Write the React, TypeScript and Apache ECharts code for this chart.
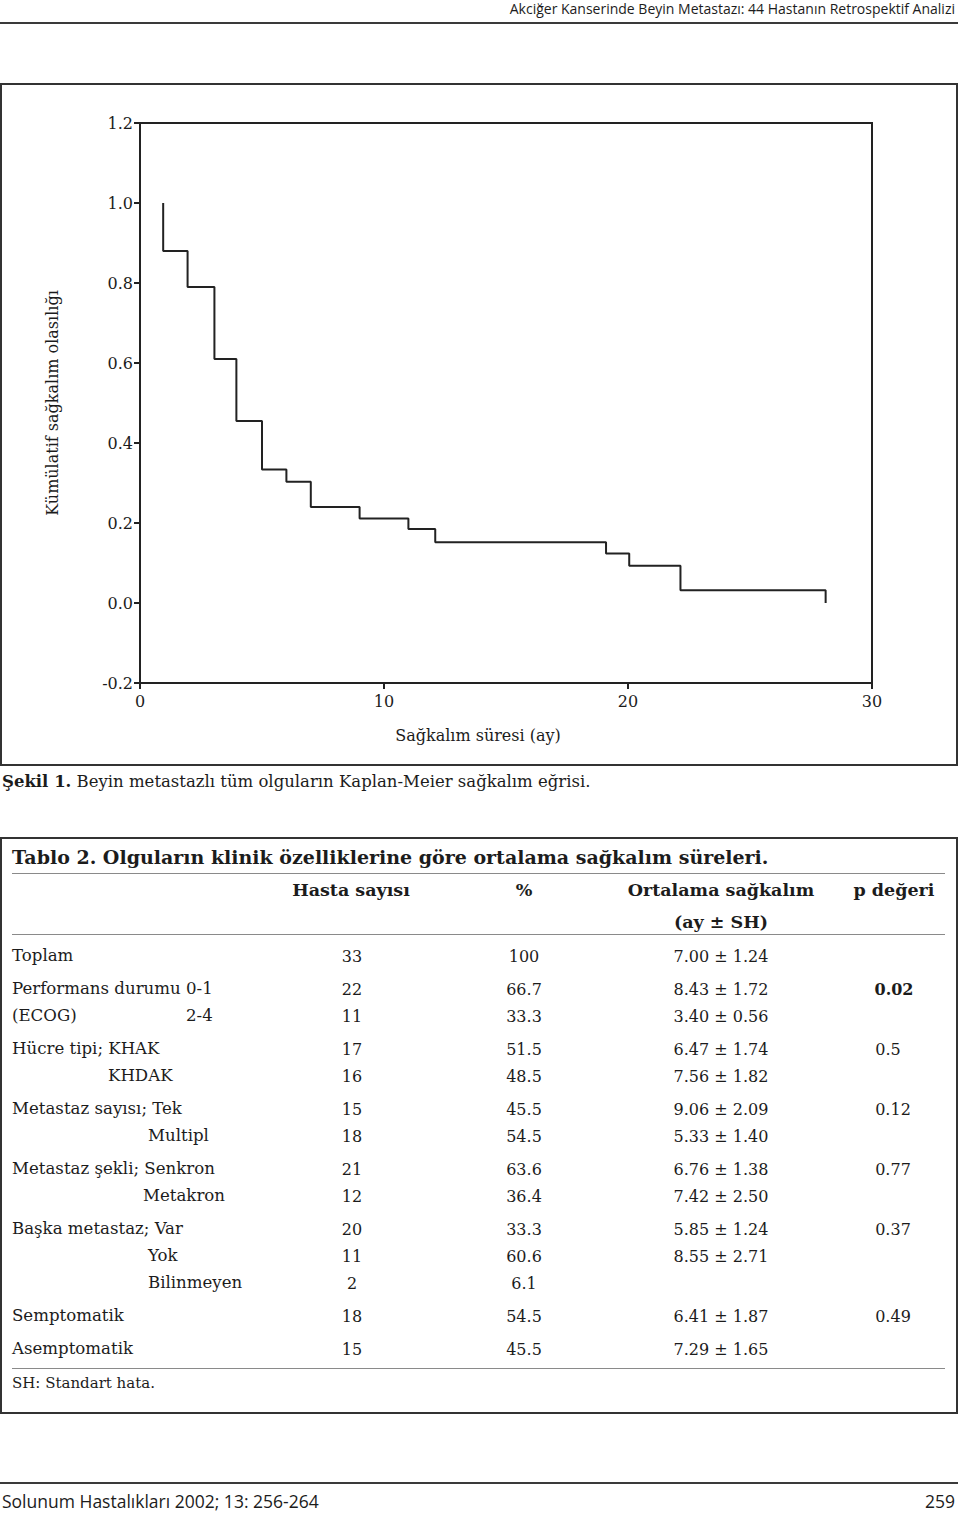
import React, { useEffect, useRef } from "react";
import * as echarts from "echarts";

// ---- Chart data (Kaplan-Meier curve) ----
const survivalTimes = [0.95, 0.95, 1.95, 3.05, 3.95, 5.0, 6.0, 7.0, 9.0, 11.0, 12.1, 19.1, 20.05, 22.15, 28.1];
const survivalProb = [1.0, 0.88, 0.79, 0.61, 0.455, 0.334, 0.303, 0.24, 0.211, 0.185, 0.152, 0.124, 0.093, 0.032, 0.0];
const yTickMin = -0.2;
const yTickMax = 1.2;
const yTickStep = 0.2;
const xTickMin = 0;
const xTickMax = 30;
const xTickStep = 10;

// ---- Texts ----
const headerText = "Akciğer Kanserinde Beyin Metastazı: 44 Hastanın Retrospektif Analizi";
const footerLeft = "Solunum Hastalıkları 2002; 13: 256-264";
const footerRight = "259";
const yAxisName = "Kümülatif sağkalım olasılığı";
const xAxisName = "Sağkalım süresi (ay)";
const captionBold = "Şekil 1.";
const captionText = " Beyin metastazlı tüm olguların Kaplan-Meier sağkalım eğrisi.";
const tableTitle = "Tablo 2. Olguların klinik özelliklerine göre ortalama sağkalım süreleri.";
const tableNote = "SH: Standart hata.";

// ---- Table data ----
const rowLabels = [
  "Toplam",
  "Performans durumu 0-1",
  "(ECOG)",
  "Hücre tipi; KHAK",
  "KHDAK",
  "Metastaz sayısı; Tek",
  "Multipl",
  "Metastaz şekli; Senkron",
  "Metakron",
  "Başka metastaz; Var",
  "Yok",
  "Bilinmeyen",
  "Semptomatik",
  "Asemptomatik",
];
const rowSubLabels = ["", "", "2-4", "", "", "", "", "", "", "", "", "", "", ""];
const hastaSayisi = ["33", "22", "11", "17", "16", "15", "18", "21", "12", "20", "11", "2", "18", "15"];
const yuzde = ["100", "66.7", "33.3", "51.5", "48.5", "45.5", "54.5", "63.6", "36.4", "33.3", "60.6", "6.1", "54.5", "45.5"];
const ortalama = [
  "7.00 ± 1.24",
  "8.43 ± 1.72",
  "3.40 ± 0.56",
  "6.47 ± 1.74",
  "7.56 ± 1.82",
  "9.06 ± 2.09",
  "5.33 ± 1.40",
  "6.76 ± 1.38",
  "7.42 ± 2.50",
  "5.85 ± 1.24",
  "8.55 ± 2.71",
  "",
  "6.41 ± 1.87",
  "7.29 ± 1.65",
];
const pDegeri = ["", "0.02", "", "0.5", "", "0.12", "", "0.77", "", "0.37", "", "", "0.49", ""];
const pBold = [false, true, false, false, false, false, false, false, false, false, false, false, false, false];

// layout for table rows (page pixels)
const rowY = [956, 989, 1016, 1049, 1076, 1109, 1136, 1169, 1196, 1229, 1256, 1283, 1316, 1349];
const rowX = [12, 12, 12, 12, 108, 12, 148, 12, 143, 12, 148, 148, 12, 12];
const pX = [0, 894, 0, 888, 0, 893, 0, 893, 0, 893, 0, 0, 893, 0];

const SERIF = "'DejaVu Serif', serif";
const SANS = "'Open Sans', 'Noto Sans', sans-serif";
const INK = "#1c1c1c";

type TxtProps = {
  x: number;
  y: number;
  children: React.ReactNode;
  align?: "left" | "center" | "right";
  size?: number;
  weight?: number;
  family?: string;
};

function Txt({ x, y, children, align = "left", size = 16, weight = 400, family = SERIF }: TxtProps) {
  const lh = Math.round(size * 1.3);
  const tx = align === "center" ? "translateX(-50%)" : align === "right" ? "translateX(-100%)" : "none";
  return (
    <div
      style={{
        position: "absolute",
        left: x,
        top: y - lh / 2,
        height: lh,
        lineHeight: lh + "px",
        fontSize: size,
        fontWeight: weight,
        fontFamily: family,
        color: INK,
        whiteSpace: "nowrap",
        transform: tx,
      }}
    >
      {children}
    </div>
  );
}

function HLine({ x1, x2, y, w = 1, color = "#8a8a8a" }: { x1: number; x2: number; y: number; w?: number; color?: string }) {
  return (
    <div style={{ position: "absolute", left: x1, top: y - w / 2, width: x2 - x1, height: w, background: color }} />
  );
}

function Chart() {
  const ref = useRef<HTMLDivElement>(null);
  useEffect(() => {
    if (!ref.current) return;
    const chart = echarts.init(ref.current, null, { renderer: "svg" });
    const data = survivalTimes.map((t, i) => [t, survivalProb[i]]);
    chart.setOption({
      animation: false,
      grid: {
        left: 140,
        top: 123,
        width: 732,
        height: 560,
        show: true,
        borderColor: "#222",
        borderWidth: 2,
        backgroundColor: "transparent",
      },
      xAxis: {
        type: "value",
        min: xTickMin,
        max: xTickMax,
        interval: xTickStep,
        name: xAxisName,
        nameLocation: "middle",
        nameGap: 44,
        nameTextStyle: { fontFamily: SERIF, fontSize: 16, color: INK, padding: [0, 56, 0, 0] },
        axisLine: { onZero: false, lineStyle: { color: "#222", width: 2 } },
        axisTick: { show: true, length: 6, lineStyle: { color: "#222", width: 2 } },
        axisLabel: { margin: 10, fontFamily: SERIF, fontSize: 16, color: INK },
        splitLine: { show: false },
      },
      yAxis: {
        type: "value",
        min: yTickMin,
        max: yTickMax,
        interval: yTickStep,
        name: yAxisName,
        nameLocation: "middle",
        nameGap: 80,
        nameRotate: 90,
        nameTextStyle: { fontFamily: SERIF, fontSize: 16, color: INK },
        axisLine: { onZero: false, lineStyle: { color: "#222", width: 2 } },
        axisTick: { show: true, length: 6, lineStyle: { color: "#222", width: 2 } },
        axisLabel: {
          margin: 7,
          fontFamily: SERIF,
          fontSize: 16,
          color: INK,
          formatter: (v: number) => v.toFixed(1),
        },
        splitLine: { show: false },
      },
      series: [
        {
          type: "line",
          step: "end",
          data,
          showSymbol: false,
          symbol: "none",
          lineStyle: { color: "#222", width: 2 },
        },
      ],
    });
    return () => chart.dispose();
  }, []);
  return <div ref={ref} style={{ position: "absolute", left: 0, top: 0, width: 960, height: 770 }} />;
}

export default function App() {
  return (
    <div style={{ position: "absolute", left: 0, top: 0, width: 960, height: 1515, background: "#fff", overflow: "hidden" }}>
      {/* running header */}
      <Txt x={955} y={9} align="right" size={14} family={SANS}>
        {headerText}
      </Txt>
      <HLine x1={0} x2={958} y={23} w={2} color="#3a3a3a" />

      {/* figure */}
      <div
        style={{
          position: "absolute",
          left: 0,
          top: 83,
          width: 958,
          height: 683,
          border: "2px solid #333",
          boxSizing: "border-box",
        }}
      />
      <Chart />
      <Txt x={2} y={781} size={16.5}>
        <span style={{ fontWeight: 700 }}>{captionBold}</span>
        {captionText}
      </Txt>

      {/* table */}
      <div
        style={{
          position: "absolute",
          left: 0,
          top: 837,
          width: 958,
          height: 577,
          border: "2px solid #333",
          boxSizing: "border-box",
        }}
      />
      <Txt x={12} y={857} size={19} weight={700}>
        {tableTitle}
      </Txt>
      <HLine x1={12} x2={945} y={873} />
      <Txt x={351} y={890} align="center" size={17.5} weight={700}>
        Hasta sayısı
      </Txt>
      <Txt x={524} y={890} align="center" size={17.5} weight={700}>
        %
      </Txt>
      <Txt x={721} y={890} align="center" size={17.5} weight={700}>
        Ortalama sağkalım
      </Txt>
      <Txt x={894} y={890} align="center" size={17.5} weight={700}>
        p değeri
      </Txt>
      <Txt x={721} y={922} align="center" size={17.5} weight={700}>
        (ay ± SH)
      </Txt>
      <HLine x1={12} x2={945} y={934} />

      {rowLabels.map((lab, i) => (
        <React.Fragment key={i}>
          <Txt x={rowX[i]} y={rowY[i]} size={16.6}>
            {lab}
          </Txt>
          {rowSubLabels[i] ? (
            <Txt x={186} y={rowY[i]} size={16.6}>
              {rowSubLabels[i]}
            </Txt>
          ) : null}
          <Txt x={352} y={rowY[i]} align="center" size={16}>
            {hastaSayisi[i]}
          </Txt>
          <Txt x={524} y={rowY[i]} align="center" size={16}>
            {yuzde[i]}
          </Txt>
          {ortalama[i] ? (
            <Txt x={721} y={rowY[i]} align="center" size={16}>
              {ortalama[i]}
            </Txt>
          ) : null}
          {pDegeri[i] ? (
            <Txt x={pX[i]} y={rowY[i]} align="center" size={16} weight={pBold[i] ? 700 : 400}>
              {pDegeri[i]}
            </Txt>
          ) : null}
        </React.Fragment>
      ))}
      <HLine x1={12} x2={945} y={1368} />
      <Txt x={12} y={1383} size={15}>
        {tableNote}
      </Txt>

      {/* running footer */}
      <HLine x1={0} x2={958} y={1483} w={2} color="#3a3a3a" />
      <Txt x={2} y={1501} size={17.5} family={SANS}>
        {footerLeft}
      </Txt>
      <Txt x={955} y={1501} align="right" size={17.5} family={SANS}>
        {footerRight}
      </Txt>
    </div>
  );
}
